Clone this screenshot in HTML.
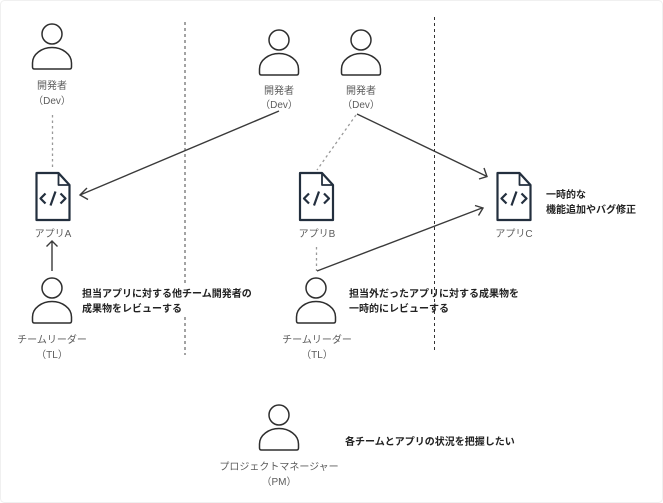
<!DOCTYPE html>
<html lang="ja"><head><meta charset="utf-8"><style>
html,body{margin:0;padding:0;background:#fff;width:663px;height:503px;overflow:hidden}
svg{display:block}
text{font-family:"Liberation Sans","Noto Sans CJK JP",sans-serif}
.l{font-size:10px;fill:#5c5c5c;text-anchor:middle}
.b{font-size:10px;fill:#222;font-weight:700}
</style></head><body>
<svg width="663" height="503" viewBox="0 0 663 503" xmlns="http://www.w3.org/2000/svg">
<defs>
<g id="p" fill="#fff" stroke="#2e2e2e" stroke-width="1.5">
<circle cx="0" cy="0" r="10"/>
<path d="M-17.500 35H17.500Q19.500 35 19.500 33V29C19.500 20 10 13.500 0 13.500S-19.500 20-19.500 29V33Q-19.500 35-17.500 35Z"/>
</g>
<g id="d" fill="none" stroke="#232f3e" stroke-width="2.200" stroke-linejoin="round">
<path d="M1 0H23L34 12V47H1Z" fill="#fff"/>
<path d="M23 0V12H34" stroke-width="1.800"/>
<path d="M10 20.500L5 25.500L10 30.500M25 20.500L30 25.500L25 30.500M20 18.500L15 32.500" stroke-width="2.200"/>
</g>
</defs>
<rect x="0.500" y="0.500" width="662" height="502" rx="4" fill="#fff" stroke="#f0f0f0"/>
<g fill="none" stroke-dasharray="3 3">
<path d="M185 22V286M185 317V355" stroke="#666" stroke-width="1.200"/>
<path d="M434.500 17V351" stroke="#333" stroke-width="1"/>
</g>
<g fill="none" stroke="#999" stroke-width="1.300" stroke-dasharray="2.500 3">
<path d="M52.500 115V170M356 115L317 170M316.500 247V271"/>
</g>
<g fill="none" stroke="#3a3a3a" stroke-width="1.400">
<path d="M279 111L80 195M87 188L80 195L88 199.500"/>
<path d="M52 271V241M46.500 246.500L52 241L57.500 246.500"/>
<path d="M357 114L486 176M484 168L487 176.500L479 179"/>
<path d="M317 271L482 208M475 205.500L483 208L478.500 215.500"/>
</g>
<use href="#p" x="52" y="34"/>
<use href="#p" x="279" y="40"/>
<use href="#p" x="361" y="40"/>
<use href="#p" x="52" y="288"/>
<use href="#p" x="316" y="288"/>
<use href="#p" x="279" y="415"/>
<use href="#d" x="35.500" y="173"/>
<use href="#d" x="299" y="173"/>
<use href="#d" x="496.500" y="173"/>
<text class="l" x="52" y="89">開発者</text><text class="l" x="52" y="104">（Dev）</text>
<text class="l" x="279" y="94">開発者</text><text class="l" x="279" y="108">（Dev）</text>
<text class="l" x="361" y="94">開発者</text><text class="l" x="361" y="108">（Dev）</text>
<text class="l" x="53" y="237">アプリA</text>
<text class="l" x="317" y="237">アプリB</text>
<text class="l" x="514" y="237">アプリC</text>
<text class="l" x="52" y="343">チームリーダー</text><text class="l" x="52" y="358">（TL）</text>
<text class="l" x="317" y="343">チームリーダー</text><text class="l" x="317" y="358">（TL）</text>
<text class="l" x="279" y="470">プロジェクトマネージャー</text><text class="l" x="279" y="485">（PM）</text>
<text class="b" x="82" y="297">担当アプリに対する他チーム開発者の</text>
<text class="b" x="82" y="312">成果物をレビューする</text>
<text class="b" x="349" y="297">担当外だったアプリに対する成果物を</text>
<text class="b" x="349" y="312">一時的にレビューする</text>
<text class="b" x="546" y="198">一時的な</text>
<text class="b" x="546" y="213">機能追加やバグ修正</text>
<text class="b" x="345" y="445">各チームとアプリの状況を把握したい</text>
</svg>
</body></html>
